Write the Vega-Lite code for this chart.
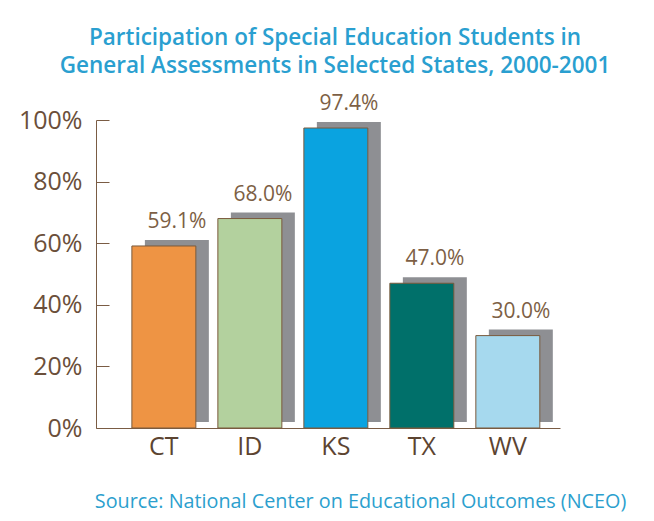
{
  "$schema": "https://vega.github.io/schema/vega-lite/v6.json",
  "width": 464,
  "height": 308,
  "autosize": {"type": "none"},
  "padding": {"left": 96, "top": 120, "right": 94, "bottom": 93},
  "background": "white",
  "config": {"font": "Open Sans", "view": {"stroke": null}},
  "title": {
    "text": ["Participation of Special Education Students in", "General Assessments in Selected States, 2000-2001"],
    "fontSize": 22.5,
    "fontWeight": 600,
    "color": "#2a9fd0",
    "lineHeight": 28,
    "anchor": "middle",
    "frame": "group",
    "dx": 7,
    "offset": 16
  },
  "data": {
    "values": [
      {"state": "CT", "value": 0.591},
      {"state": "ID", "value": 0.680},
      {"state": "KS", "value": 0.974},
      {"state": "TX", "value": 0.470},
      {"state": "WV", "value": 0.300}
    ]
  },
  "encoding": {
    "x": {
      "field": "state",
      "type": "nominal",
      "sort": null,
      "scale": {"paddingInner": 0.256, "paddingOuter": 0.326, "align": 0.64},
      "axis": {
        "labelAngle": 0,
        "labelFontSize": 25,
        "labelColor": "#5c4431",
        "labelPadding": 6,
        "ticks": false,
        "domainColor": "#7a5c44",
        "domainWidth": 1,
        "title": "Source: National Center on Educational Outcomes (NCEO)",
        "titleFontSize": 19.8,
        "titleFontWeight": "normal",
        "titleColor": "#2c9fce",
        "titleX": 264,
        "titleY": 73,
        "titleAlign": "center",
        "titleBaseline": "middle"
      }
    },
    "y": {
      "field": "value",
      "type": "quantitative",
      "scale": {"domain": [0, 1], "nice": false},
      "axis": {
        "values": [0, 0.2, 0.4, 0.6, 0.8, 1],
        "format": ".0%",
        "grid": false,
        "title": null,
        "labelFontSize": 25,
        "labelColor": "#6b4f3a",
        "labelPadding": 27,
        "tickSize": -13,
        "tickColor": "#7a5c44",
        "domainColor": "#7a5c44"
      }
    }
  },
  "layer": [
    {
      "mark": {"type": "bar", "color": "#8e8f93", "xOffset": 13, "yOffset": -6}
    },
    {
      "mark": {"type": "bar", "stroke": "#7a5a3c", "strokeWidth": 1},
      "encoding": {
        "color": {
          "field": "state",
          "type": "nominal",
          "scale": {"domain": ["CT", "ID", "KS", "TX", "WV"], "range": ["#ee9444", "#b3d19e", "#0aa3e0", "#00706a", "#a6d9ee"]},
          "legend": null
        }
      }
    },
    {
      "mark": {"type": "text", "dx": 13, "dy": -18, "baseline": "alphabetic", "fontSize": 21, "color": "#7d5f45"},
      "encoding": {
        "text": {"field": "value", "type": "quantitative", "format": ".1%"}
      }
    }
  ]
}
